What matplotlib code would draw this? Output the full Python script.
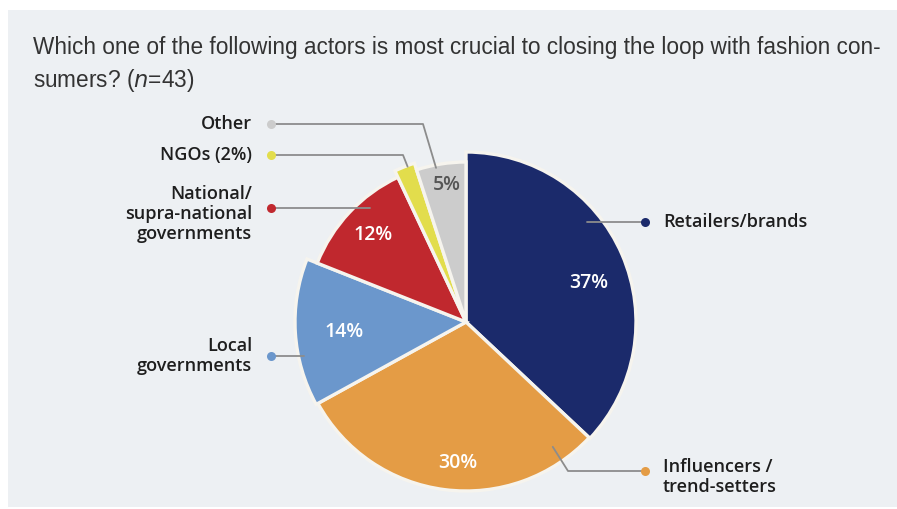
import numpy as np
import matplotlib.pyplot as plt
from matplotlib.patches import Rectangle

W, H = 897, 509

# survey answers, clockwise from 12 o'clock
actors = ["Retailers/brands", "Influencers /\ntrend-setters", "Local\ngovernments",
          "National/\nsupra-national\ngovernments", "NGOs (2%)", "Other"]
shares = [37, 30, 14, 12, 2, 5]
colors = ["#1b2a6b", "#e49c45", "#6b97cc", "#c0282e", "#e2dd4c", "#cccccc"]
show_pct = [True, True, True, True, False, True]

title = ("Which one of the following actors is most crucial to closing the loop with fashion con-\n"
         "sumers? ($n$=43)")

# layout (pixels, y measured from the top)
cx, cy = 466, 322
radii = [170, 169, 171, 160, 167, 160]
pct_r = [129, 141, 122, 127, 0, 138]
pct_nudge = [-6, 4, 1, 0, 0, -1]
anchor_r = [156, 152, 165, 150, 166, 157]
anchor_nudge = [16, 42, 8, -7, -1, 2]
label_y = [222, 471, 356, 208, 155, 124]
label_text_y = [222, 477, 356, 214, 155, 124]
elbow_x = [None, 568, None, None, 403, 423]
side = [1, 1, -1, -1, -1, -1]
dot_x = {1: 645, -1: 271}
text_x = {1: 663, -1: 252}


def Y(y):
    return H - y


fig = plt.figure(figsize=(W / 100, H / 100), dpi=100)
fig.patch.set_facecolor("white")
ax = fig.add_axes([0, 0, 1, 1])

ax.add_patch(Rectangle((8, Y(507)), W - 8, 497, facecolor="#edf0f3", edgecolor="none", zorder=0))

wedges, _ = ax.pie(shares, colors=colors, startangle=90, counterclock=False,
                   center=(cx, Y(cy)), radius=170,
                   wedgeprops=dict(edgecolor="#f6f4ee", linewidth=2.4))
for w, r in zip(wedges, radii):
    w.set_radius(r)
    w.set_zorder(2)

ax.set_xlim(0, W)
ax.set_ylim(0, H)
ax.set_aspect("equal")
ax.axis("off")

# mid angle of every slice
cum = np.concatenate([[0], np.cumsum(shares)[:-1]])
mids = 90 - 3.6 * (cum + np.array(shares) / 2)

lab_font = ["Open Sans", "DejaVu Sans"]
for i, v in enumerate(shares):
    if show_pct[i]:
        a = np.radians(mids[i] + pct_nudge[i])
        px = cx + pct_r[i] * np.cos(a)
        py = Y(cy) + pct_r[i] * np.sin(a)
        ax.text(px, py, f"{v}%", color="white" if colors[i] != "#cccccc" else "#555555",
                fontsize=14, fontweight="semibold", ha="center", va="center",
                family=lab_font, zorder=4)

    # leader line from inside the slice to the dot
    a = np.radians(mids[i] + anchor_nudge[i])
    ax_, ay_ = cx + anchor_r[i] * np.cos(a), Y(cy) + anchor_r[i] * np.sin(a)
    dx = dot_x[side[i]]
    ly = Y(label_y[i])
    if elbow_x[i] is None:
        xs, ys = [ax_, dx], [ly, ly]
    else:
        xs, ys = [ax_, elbow_x[i], dx], [ay_, ly, ly]
    ax.plot(xs, ys, color="#8c8c8c", lw=1.3, zorder=3, solid_capstyle="round")
    ax.plot(dx, ly, "o", color=colors[i], ms=6.5, mec="none", zorder=5)
    ax.text(text_x[side[i]], Y(label_text_y[i]), actors[i], fontsize=13,
            fontweight="semibold", color="#1e1e1e",
            ha="left" if side[i] > 0 else "right", va="center", family=lab_font,
            linespacing=1.12, zorder=4)

ax.text(33, Y(36), title, fontsize=16.3, color="#333333", ha="left", va="top",
        family=["Liberation Sans", "DejaVu Sans"], linespacing=1.4)

fig.savefig("out.png", dpi=100, facecolor=fig.get_facecolor())
